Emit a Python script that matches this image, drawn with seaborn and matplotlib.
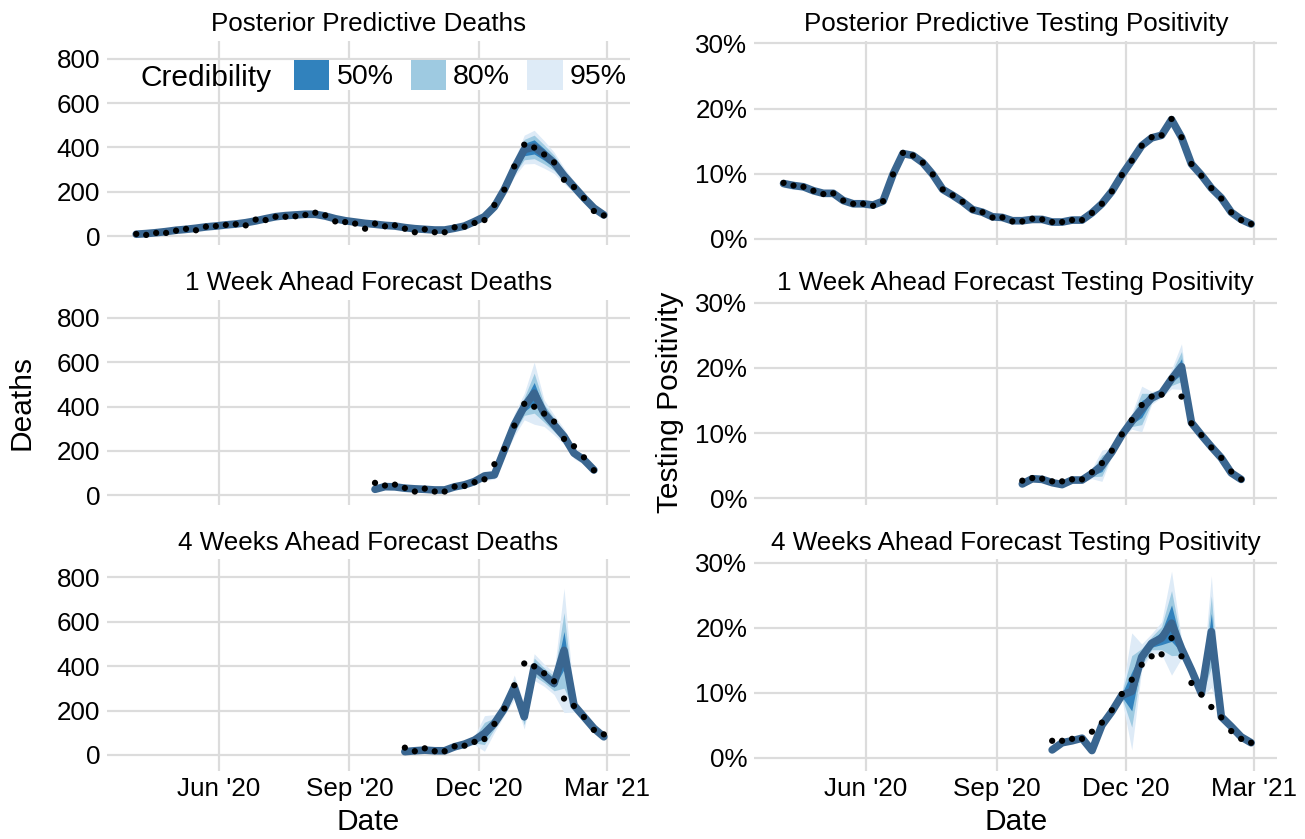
import matplotlib
matplotlib.use("Agg")
import matplotlib.pyplot as plt
import matplotlib.dates as mdates
from matplotlib.patches import Patch
from matplotlib.ticker import FuncFormatter
import numpy as np
import pandas as pd
import seaborn as sns

# weekly dates
weeks = pd.date_range("2020-04-04", periods=48, freq="7D")
f1_weeks = weeks[24:47]
f4_weeks = weeks[27:48]

# observed data
obs_deaths = [9, 5, 14, 14, 24, 32, 26, 42, 45, 50,
              53, 48, 74, 72, 87, 87, 89, 95, 105, 93,
              66, 63, 56, 33, 56, 44, 48, 33, 17, 30,
              17, 17, 39, 42, 59, 72, 140, 209, 314, 412,
              399, 368, 332, 254, 221, 171, 113, 93]
obs_pos = [8.6, 8.2, 8.0, 7.4, 6.9, 7.0, 5.9, 5.4, 5.4, 5.1,
           5.8, 9.9, 13.2, 12.8, 11.7, 9.9, 7.6, 6.7, 5.7, 4.5,
           4.1, 3.3, 3.3, 2.7, 2.7, 3.1, 3.0, 2.6, 2.6, 2.9,
           2.9, 4.0, 5.4, 7.3, 9.8, 12.0, 14.3, 15.6, 15.9, 18.4,
           15.6, 11.5, 9.7, 7.8, 6.2, 4.1, 2.9, 2.3]

# posterior predictive (median and half widths of 95/80/50% intervals)
pp_deaths_med = [8, 11, 15, 20, 26, 30, 35, 41, 45, 50,
                 54, 60, 68, 78, 87, 92, 95, 98, 98, 90,
                 78, 69, 63, 57, 53, 48, 45, 38, 33, 30,
                 27, 27, 35, 45, 65, 87, 132, 210, 306, 390,
                 402, 368, 330, 272, 222, 172, 126, 95]
pp_deaths_w95 = [6, 6, 6, 6, 6, 6, 6, 6, 6, 6,
                 6, 6, 7, 8, 9, 10, 10, 10, 10, 9,
                 8, 7, 7, 6, 6, 6, 6, 6, 6, 6,
                 6, 6, 6, 7, 8, 10, 14, 22, 38, 65,
                 75, 62, 48, 36, 26, 18, 12, 9]
pp_deaths_w80 = [4, 4, 4, 4, 4, 4, 4, 4, 4, 4,
                 4, 4, 5, 6, 6, 7, 7, 7, 7, 6,
                 6, 5, 5, 4, 4, 4, 4, 4, 4, 4,
                 4, 4, 4, 5, 6, 7, 10, 15, 27, 46,
                 53, 43, 34, 25, 18, 13, 8, 6]
pp_deaths_w50 = [2, 2, 2, 2, 2, 2, 2, 2, 2, 2,
                 2, 2, 3, 3, 4, 4, 4, 4, 4, 4,
                 3, 3, 3, 2, 2, 2, 2, 2, 2, 2,
                 2, 2, 2, 3, 3, 4, 6, 9, 16, 28,
                 32, 26, 20, 15, 11, 8, 5, 4]

pp_pos_med = [8.5, 8.2, 8.0, 7.4, 7.0, 7.0, 5.9, 5.4, 5.4, 5.2,
              5.8, 9.9, 13.1, 12.8, 11.7, 9.9, 7.6, 6.7, 5.7, 4.5,
              4.1, 3.4, 3.3, 2.8, 2.8, 3.0, 3.0, 2.6, 2.6, 2.9,
              2.9, 4.0, 5.4, 7.3, 9.8, 12.0, 14.3, 15.5, 15.9, 18.3,
              15.6, 11.5, 9.8, 7.8, 6.3, 4.1, 3.0, 2.3]
pp_pos_w95 = [0.6, 0.6, 0.5, 0.4, 0.3, 0.2, 0.2, 0.2, 0.2, 0.2,
              0.2, 0.2, 0.2, 0.2, 0.2, 0.2, 0.2, 0.2, 0.2, 0.2,
              0.2, 0.2, 0.2, 0.2, 0.2, 0.2, 0.2, 0.2, 0.2, 0.2,
              0.2, 0.2, 0.2, 0.2, 0.2, 0.2, 0.2, 0.2, 0.2, 0.3,
              0.2, 0.2, 0.2, 0.2, 0.2, 0.2, 0.2, 0.2]
pp_pos_w80 = [0.4, 0.4, 0.35, 0.3, 0.2, 0.15, 0.15, 0.15, 0.15, 0.15,
              0.15, 0.15, 0.15, 0.15, 0.15, 0.15, 0.15, 0.15, 0.15, 0.15,
              0.15, 0.15, 0.15, 0.15, 0.15, 0.15, 0.15, 0.15, 0.15, 0.15,
              0.15, 0.15, 0.15, 0.15, 0.15, 0.15, 0.15, 0.15, 0.15, 0.2,
              0.15, 0.15, 0.15, 0.15, 0.15, 0.15, 0.15, 0.15]
pp_pos_w50 = [0.25, 0.25, 0.2, 0.15, 0.1, 0.1, 0.1, 0.1, 0.1, 0.1,
              0.1, 0.1, 0.1, 0.1, 0.1, 0.1, 0.1, 0.1, 0.1, 0.1,
              0.1, 0.1, 0.1, 0.1, 0.1, 0.1, 0.1, 0.1, 0.1, 0.1,
              0.1, 0.1, 0.1, 0.1, 0.1, 0.1, 0.1, 0.1, 0.1, 0.1,
              0.1, 0.1, 0.1, 0.1, 0.1, 0.1, 0.1, 0.1]

# 1 week ahead forecasts
f1_deaths_med = [27, 39, 38, 32, 29, 27, 24, 24, 38, 47, 62, 87, 92,
                 205, 317, 400, 460, 370, 317, 265, 190, 160, 114]
f1_deaths_w95 = [10, 8, 8, 8, 8, 8, 8, 8, 8, 10, 14, 22, 18,
                 30, 50, 60, 140, 60, 45, 35, 25, 20, 12]
f1_deaths_w80 = [6, 5, 5, 5, 5, 5, 5, 5, 5, 6, 9, 14, 12,
                 20, 34, 40, 90, 40, 30, 23, 17, 13, 8]
f1_deaths_w50 = [3, 3, 3, 3, 3, 3, 3, 3, 3, 4, 5, 8, 7,
                 11, 19, 23, 48, 22, 17, 13, 9, 7, 5]

f1_pos_med = [2.2, 3.0, 2.9, 2.4, 2.1, 2.8, 2.8, 3.8, 5.0, 7.1, 9.7, 11.8, 13.7,
              15.4, 16.1, 18.3, 20.2, 11.6, 9.7, 7.9, 6.2, 3.9, 2.9]
f1_pos_w95 = [0.3, 0.3, 0.3, 0.3, 0.3, 0.3, 0.3, 0.8, 2.4, 0.6, 0.5, 1.2, 3.5,
              1.0, 0.6, 1.5, 3.5, 0.6, 0.4, 0.4, 0.5, 0.4, 0.3]
f1_pos_w80 = [0.2, 0.2, 0.2, 0.2, 0.2, 0.2, 0.2, 0.5, 1.6, 0.4, 0.3, 0.8, 2.4,
              0.7, 0.4, 1.0, 2.3, 0.4, 0.3, 0.3, 0.3, 0.3, 0.2]
f1_pos_w50 = [0.1, 0.1, 0.1, 0.1, 0.1, 0.1, 0.1, 0.3, 0.9, 0.2, 0.2, 0.4, 1.3,
              0.4, 0.2, 0.5, 1.2, 0.2, 0.15, 0.15, 0.2, 0.15, 0.1]

# 4 weeks ahead forecasts
f4_deaths_med = [15, 19, 22, 19, 19, 37, 49, 67, 97, 142, 209,
                 305, 172, 396, 359, 322, 471, 224, 172, 120, 82]
f4_deaths_w95 = [10, 10, 10, 10, 10, 15, 15, 20, 80, 40, 30,
                 55, 55, 60, 50, 50, 280, 30, 20, 15, 12]
f4_deaths_w80 = [6, 6, 6, 6, 6, 10, 10, 13, 50, 25, 20,
                 36, 36, 40, 33, 33, 170, 20, 13, 10, 8]
f4_deaths_w50 = [3, 3, 3, 3, 3, 5, 5, 7, 25, 13, 10,
                 18, 18, 20, 17, 17, 85, 10, 7, 5, 4]

f4_pos_med = [1.2, 2.3, 2.6, 3.0, 1.1, 5.0, 7.1, 9.6, 10.2, 15.5, 17.6,
              18.4, 20.7, 16.8, 13.5, 9.9, 19.4, 6.3, 4.8, 3.2, 2.3]
f4_pos_w95 = [0.2, 0.2, 0.2, 0.2, 0.2, 0.3, 0.3, 0.5, 9.0, 2.0, 1.5,
              2.5, 8.0, 1.5, 0.8, 0.8, 8.6, 0.5, 0.4, 0.5, 0.5]
f4_pos_w80 = [0.15, 0.15, 0.15, 0.15, 0.15, 0.2, 0.2, 0.3, 5.5, 1.3, 1.0,
              1.8, 5.0, 1.0, 0.5, 0.5, 5.5, 0.3, 0.3, 0.3, 0.3]
f4_pos_w50 = [0.1, 0.1, 0.1, 0.1, 0.1, 0.1, 0.1, 0.2, 3.0, 0.8, 0.6,
              1.0, 2.8, 0.6, 0.3, 0.3, 2.8, 0.2, 0.2, 0.2, 0.2]

C50, C80, C95 = "#3182BD", "#9ECAE1", "#DEEBF7"
LINE = "#3A6690"

sns.set_theme(style="white")
plt.rcParams["font.family"] = ["Liberation Sans", "DejaVu Sans"]
plt.rcParams["text.color"] = "black"
plt.rcParams["axes.labelcolor"] = "black"
plt.rcParams["xtick.color"] = "black"
plt.rcParams["ytick.color"] = "black"

W, H = 1305, 839
fig = plt.figure(figsize=(W / 100, H / 100), dpi=100)

xlim = (pd.Timestamp("2020-03-14 10:00"), pd.Timestamp("2021-03-17 10:00"))
xticks = pd.to_datetime(["2020-06-01", "2020-09-01", "2020-12-01", "2021-03-01"])
rows = [(40.7, 245), (300, 505), (559.3, 770.5)]
cols = [(107, 523), (754.3, 523)]
# pixel positions of two gridlines per panel (value0 px, value1 px)
death_px = [(236, 58.7), (495.3, 317.7), (755, 577.3)]
pos_px = [(239, 43.3), (498.3, 302.7), (757.7, 562.7)]


def make_ax(row, col, p0, p1, v0, v1):
    top, bot = rows[row]
    x0, w = cols[col]
    ax = fig.add_axes([x0 / W, 1 - bot / H, w / W, (bot - top) / H])
    s = (p0 - p1) / (v1 - v0)
    ax.set_ylim(v0 - (bot - p0) / s, v0 + (p0 - top) / s)
    ax.set_xlim(*xlim)
    ax.set_xticks(xticks)
    ax.xaxis.set_major_formatter(mdates.DateFormatter("%b '%y"))
    for sp in ax.spines.values():
        sp.set_visible(False)
    ax.grid(True, color="#DCDCDC", linewidth=1.6)
    ax.set_axisbelow(True)
    ax.tick_params(length=0, labelsize=18.7, pad=5, colors="black")
    if row < 2:
        ax.tick_params(labelbottom=False)
    return ax


def draw(ax, dates, med, w95, w80, w50, obs_dates, obs_vals, title):
    med = np.asarray(med, dtype=float)
    for w, c in [(w95, C95), (w80, C80), (w50, C50)]:
        w = np.asarray(w, dtype=float)
        ax.fill_between(dates, med - w, med + w, color=c, linewidth=0, zorder=2)
    sns.lineplot(x=dates, y=med, ax=ax, color=LINE, linewidth=5.5, zorder=3)
    sns.scatterplot(x=obs_dates, y=obs_vals, ax=ax, color="black", s=20,
                    edgecolor="none", zorder=4)
    ax.set_title(title, fontsize=18.7, pad=7, color="black")
    ax.set_xlabel("")
    ax.set_ylabel("")


titles_d = ["Posterior Predictive Deaths", "1 Week Ahead Forecast Deaths",
            "4 Weeks Ahead Forecast Deaths"]
titles_p = ["Posterior Predictive Testing Positivity",
            "1 Week Ahead Forecast Testing Positivity",
            "4 Weeks Ahead Forecast Testing Positivity"]

death_sets = [
    (weeks, pp_deaths_med, pp_deaths_w95, pp_deaths_w80, pp_deaths_w50, weeks, obs_deaths),
    (f1_weeks, f1_deaths_med, f1_deaths_w95, f1_deaths_w80, f1_deaths_w50, f1_weeks, obs_deaths[24:47]),
    (f4_weeks, f4_deaths_med, f4_deaths_w95, f4_deaths_w80, f4_deaths_w50, f4_weeks, obs_deaths[27:48]),
]
pos_sets = [
    (weeks, pp_pos_med, pp_pos_w95, pp_pos_w80, pp_pos_w50, weeks, obs_pos),
    (f1_weeks, f1_pos_med, f1_pos_w95, f1_pos_w80, f1_pos_w50, f1_weeks, obs_pos[24:47]),
    (f4_weeks, f4_pos_med, f4_pos_w95, f4_pos_w80, f4_pos_w50, f4_weeks, obs_pos[27:48]),
]

pct = FuncFormatter(lambda v, p: f"{v:.0f}%")
axes_d = []
for r in range(3):
    ax = make_ax(r, 0, death_px[r][0], death_px[r][1], 0, 800)
    ax.set_yticks([0, 200, 400, 600, 800])
    draw(ax, *death_sets[r], titles_d[r])
    axes_d.append(ax)

    ax = make_ax(r, 1, pos_px[r][0], pos_px[r][1], 0, 30)
    ax.set_yticks([0, 10, 20, 30])
    ax.yaxis.set_major_formatter(pct)
    draw(ax, *pos_sets[r], titles_p[r])

# legend
handles = [Patch(facecolor=C50, edgecolor="none", label="50%"),
           Patch(facecolor=C80, edgecolor="none", label="80%"),
           Patch(facecolor=C95, edgecolor="none", label="95%")]
leg = axes_d[0].legend(handles=handles, ncol=3, loc="upper right",
                       bbox_to_anchor=(627 / W, 1 - 59.5 / H), bbox_transform=fig.transFigure,
                       frameon=True, facecolor="white", edgecolor="white", framealpha=1,
                       borderpad=0.0, handlelength=1.25, handleheight=1.25,
                       handletextpad=0.25, columnspacing=0.6, fontsize=20.5,
                       borderaxespad=0)
leg.set_zorder(10)
leg.get_frame().set_linewidth(0)
fig.text(140 / W, 1 - 78 / H, "Credibility", fontsize=21.5, va="center", ha="left", zorder=11)

# axis labels
fig.text(21.5 / W, 1 - 402 / H, "Deaths", rotation=90, fontsize=21.5, va="center", ha="center")
fig.text(670 / W, 1 - 402 / H, "Testing Positivity", rotation=90, fontsize=21.5,
         va="center", ha="center")
fig.text(368.5 / W, 1 - 822 / H, "Date", fontsize=21.5, va="center", ha="center")
fig.text(1016 / W, 1 - 822 / H, "Date", fontsize=21.5, va="center", ha="center")

fig.savefig("out.png", dpi=100)
